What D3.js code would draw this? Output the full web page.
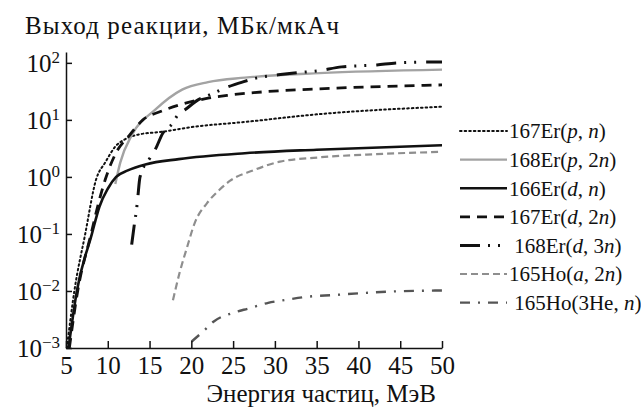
<!DOCTYPE html>
<html><head><meta charset="utf-8">
<script src="https://cdn.jsdelivr.net/npm/d3@7/dist/d3.min.js"></script>
<style>
html,body{margin:0;padding:0;background:#fff;}
svg text{font-family:"Liberation Serif","Times New Roman","DejaVu Serif",serif !important;}
</style></head>
<body><svg id="chart" width="641" height="411"></svg>
<script>
// ---- data ----
const xTicks = [5,10,15,20,25,30,35,40,45,50];
const yTicks = [1e-3,1e-2,1e-1,1e0,1e1,1e2];
const yTickExp = ["\u22123","\u22122","\u22121","0","1","2"];
const titleY = "Выход реакции, МБк/мкАч";
const titleX = "Энергия частиц, МэВ";

const seriesNames = ["167Er(p, n)","168Er(p, 2n)","166Er(d, n)","167Er(d, 2n)","168Er(d, 3n)","165Ho(a, 2n)","165Ho(3He, n)"];
const targets = ["167Er","168Er","166Er","167Er","168Er","165Ho","165Ho"];
const projectiles = ["p","p","d","d","d","a","3He"];
const ejectiles = ["n","2n","n","2n","3n","2n","n"];

const er167pn = [[5.1,0.001],[6.0,0.01],[7.3,0.1],[8.6,0.9],[9.7,1.8],[10.9,3.4],[12.1,4.6],[13.6,5.5],[16.5,6.2],[20.4,7.6],[26.4,9.2],[35,12.5],[50,17]];
const er168p2n = [[10.9,0.75],[11.5,1.8],[12.9,5.5],[15.65,15],[18.9,34],[22,46],[26.4,55],[35.3,66],[50,76]];
const er166dn = [[5.3,0.001],[6.3,0.01],[8.1,0.1],[9.0,0.3],[10.0,0.62],[11.0,1.0],[12.4,1.3],[14.5,1.65],[18.5,2.05],[26.4,2.6],[35,3.0],[50,3.6]];
const er167d2n = [[5.4,0.001],[6.4,0.01],[8.0,0.1],[9.0,0.4],[9.7,0.9],[10.9,2.5],[12.7,5.6],[14.2,10],[16.3,14],[18.4,18],[22,24],[24.4,27],[28.6,31],[35.3,35],[50,41]];
const er168d3n = [[12.86,0.065],[13.14,0.133],[13.5,0.32],[13.6,0.45],[13.86,1.0],[15.05,2.15],[15.65,2.96],[16.6,5.9],[17.7,8.5],[18.4,12.3],[19.24,15],[20.8,22.4],[22.2,27.5],[24.4,38],[26.1,46],[28,55],[30.4,61.6],[32.6,67],[35,72],[38,85],[42.2,92],[44.6,100],[50,104]];
const ho165a2n = [[17.8,0.0069],[18.6,0.021],[19.5,0.059],[20.4,0.155],[21.9,0.35],[23.4,0.6],[24.6,0.85],[27.4,1.3],[30.6,1.85],[35.3,2.2],[42,2.5],[50,2.75]];
const ho1653hen = [[20.04,0.0013],[21.6,0.00207],[22.6,0.00286],[24.9,0.0041],[27,0.005],[29.2,0.0062],[31.4,0.007],[33.8,0.0079],[37.2,0.0085],[40.5,0.0092],[44.1,0.0098],[50,0.0102]];

const seriesData = [er167pn, er168p2n, er166dn, er167d2n, er168d3n, ho165a2n, ho1653hen];
const seriesColors = ["#111","#a3a3a3","#111","#111","#111","#8e8e8e","#555"];
const seriesWidths = [2,2.4,2.6,2.8,3,2.2,2.4];
const seriesDash = ["1.6,3", null, null, "10,7", "20,8,2,8,2,10", "7,4", "10,8,2,8"];
const seriesCaps = ["round","butt","butt","butt","butt","butt","butt"];

// ---- chart ----
const svg = d3.select("#chart");
const x = d3.scaleLinear().domain([5,50]).range([66,442]);
const y = d3.scaleLog().domain([1e-3,155]).range([348,52]);

const line = d3.line().x(d=>x(d[0])).y(d=>y(d[1])).curve(d3.curveMonotoneX);

svg.append("g")
  .selectAll("path").data(seriesData).join("path")
  .attr("d", line)
  .attr("fill","none")
  .attr("stroke",(d,i)=>seriesColors[i])
  .attr("stroke-width",(d,i)=>seriesWidths[i])
  .attr("stroke-dasharray",(d,i)=>seriesDash[i])
  .attr("stroke-linecap",(d,i)=>seriesCaps[i]);

// axes
const xAxis = d3.axisBottom(x).tickValues(xTicks).tickSize(-7).tickSizeOuter(0).tickPadding(8).tickFormat(d3.format("d"));
const gx = svg.append("g").attr("transform",`translate(0,${y(1e-3)})`).call(xAxis);
gx.attr("font-family",null).attr("font-size",null);
gx.selectAll("text").attr("font-size",25).attr("fill","#111");

const yAxis = d3.axisLeft(y).tickValues(yTicks).tickSize(-6).tickSizeOuter(0).tickPadding(6).tickFormat("");
const gy = svg.append("g").attr("transform",`translate(${x(5)},0)`).call(yAxis);
gy.attr("font-family",null).attr("font-size",null);
gy.selectAll(".tick").each(function(d,i){
  const t = d3.select(this).append("text")
    .attr("x",-6).attr("y",0).attr("dy","0.35em")
    .attr("text-anchor","end").attr("fill","#111")
    .attr("font-size",25);
  t.append("tspan").text("10");
  t.append("tspan").attr("font-size",17).attr("dy",-9).text(yTickExp[i]);
});
[gx,gy].forEach(g=>{
  g.select(".domain").attr("stroke","#111").attr("stroke-width",1.5);
  g.selectAll(".tick line").attr("stroke","#111").attr("stroke-width",1.5);
});

// titles
svg.append("text").attr("x",25).attr("y",34).attr("font-size",25).attr("fill","#111")
  .attr("textLength",314).attr("lengthAdjust","spacing").text(titleY);
svg.append("text").attr("x",436).attr("y",402).attr("text-anchor","end").attr("font-size",25).attr("fill","#111").text(titleX);

// legend
const legY0 = 131, legStep = 28.6;
const leg = svg.append("g");
seriesNames.forEach((name,i)=>{
  const cy = legY0 + i*legStep;
  leg.append("line").attr("x1",460).attr("x2",507).attr("y1",cy).attr("y2",cy)
    .attr("stroke",seriesColors[i]).attr("stroke-width",seriesWidths[i])
    .attr("stroke-dasharray",seriesDash[i]).attr("stroke-linecap",seriesCaps[i]);
  const t = leg.append("text").attr("x",509).attr("y",cy).attr("dy","0.35em")
    .attr("font-size",21).attr("fill","#111");
  const pad = (projectiles[i]==="3He" || ejectiles[i]==="3n") ? "\u00a0" : "";
  t.append("tspan").text(pad + targets[i] + "(");
  const proj = projectiles[i];
  if (proj==="3He") t.append("tspan").text(proj);
  else t.append("tspan").attr("font-style","italic").text(proj);
  t.append("tspan").text(", ");
  const m = ejectiles[i].match(/^(\d*)(.*)$/);
  if (m[1]) t.append("tspan").text(m[1]);
  t.append("tspan").attr("font-style","italic").text(m[2]);
  t.append("tspan").text(")");
});
</script></body></html>
